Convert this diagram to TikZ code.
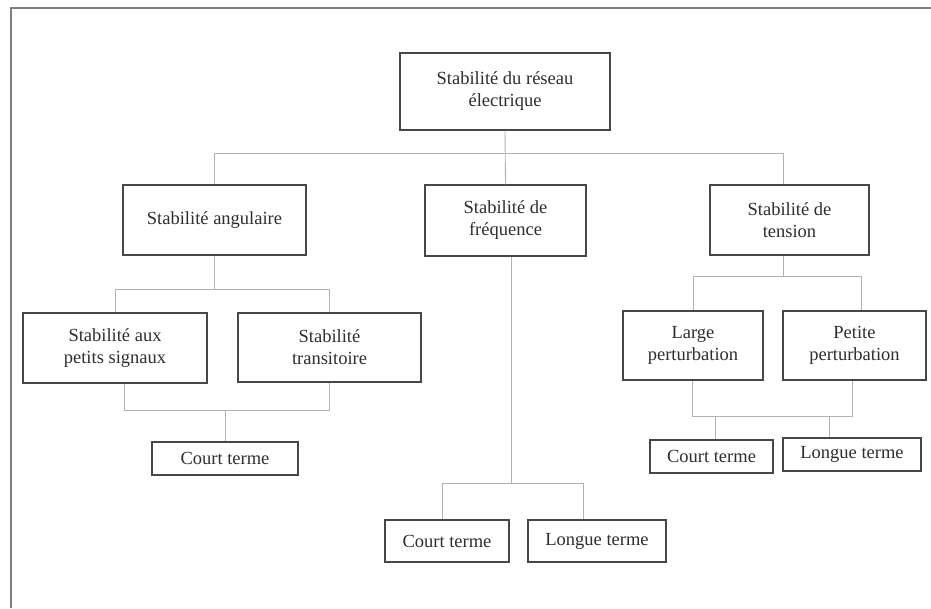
\documentclass[tikz,border=0pt]{standalone}
\usepackage{fontspec}
\setmainfont{Liberation Serif}
\begin{document}
\begin{tikzpicture}[x=1pt,y=-1pt,
  box/.style={draw=black!72, line width=1.4pt, fill=white, inner sep=0pt,
    align=center, text=black!82, font=\fontsize{18.5}{22}\selectfont},
  conn/.style={draw=black!30, line width=0.9pt},
  frame/.style={draw=black!50, line width=2.2pt}]
\useasboundingbox (0,0) rectangle (931,608);
\draw[frame] (11,608) -- (11,8) -- (931,8);

% nodes
\node[box, minimum width=210, minimum height=77] (root) at (505,91.5) {Stabilité du réseau\\électrique};
\node[box, minimum width=183, minimum height=70] (ang) at (214.5,220) {Stabilité angulaire};
\node[box, minimum width=161, minimum height=71] (fre) at (505.5,220.5) {Stabilité de\\fréquence};
\node[box, minimum width=159, minimum height=70] (ten) at (789.5,220) {Stabilité de\\tension};
\node[box, minimum width=184, minimum height=70] (psig) at (115,348) {Stabilité aux\\petits signaux};
\node[box, minimum width=183, minimum height=69] (tra) at (329.5,347.5) {Stabilité\\transitoire};
\node[box, minimum width=146, minimum height=33] (ct1) at (225,458.5) {Court terme};
\node[box, minimum width=140, minimum height=69] (lar) at (693,345.5) {Large\\perturbation};
\node[box, minimum width=143, minimum height=69] (pet) at (854.5,345.5) {Petite\\perturbation};
\node[box, minimum width=123, minimum height=33] (ct3) at (711.5,456.5) {Court terme};
\node[box, minimum width=138, minimum height=33] (lt3) at (852,454.5) {Longue terme};
\node[box, minimum width=124, minimum height=42] (ct2) at (447,541) {Court terme};
\node[box, minimum width=138, minimum height=42] (lt2) at (597,541) {Longue terme};

% junction coordinates
\coordinate (b1) at (0,153);
\coordinate (b2) at (0,289);
\coordinate (b3) at (0,410);
\coordinate (b4) at (0,483);
\coordinate (b5) at (0,276);
\coordinate (b6) at (0,416);

% level 1
\begin{scope}[on background layer/.style={}]
\draw[conn] (root.south) -- (fre.north);
\draw[conn] (ang.north) -- (ang.north |- b1) -- ([xshift=-6.5pt]ten.north |- b1) -- ([xshift=-6.5pt]ten.north);

% angular
\draw[conn] (ang.south) -- (ang.south |- b2);
\draw[conn] (psig.north) -- (psig.north |- b2) -- (tra.north |- b2) -- (tra.north);
\draw[conn] ([xshift=9pt]psig.south) -- ([xshift=9pt]psig.south |- b3) -- (tra.south |- b3) -- (tra.south);
\draw[conn] (ct1.north |- b3) -- (ct1.north);

% frequency
\draw[conn] ([xshift=5.5pt]fre.south) -- ([xshift=5.5pt]fre.south |- b4);
\draw[conn] ([xshift=-5pt]ct2.north) -- ([xshift=-5pt]ct2.north |- b4) -- ([xshift=-14pt]lt2.north |- b4) -- ([xshift=-14pt]lt2.north);

% tension
\draw[conn] ([xshift=-6.5pt]ten.south) -- ([xshift=-6.5pt]ten.south |- b5);
\draw[conn] (lar.north) -- (lar.north |- b5) -- ([xshift=6.5pt]pet.north |- b5) -- ([xshift=6.5pt]pet.north);
\draw[conn] ([xshift=-1pt]lar.south) -- ([xshift=-1pt]lar.south |- b6) -- ([xshift=-2.5pt]pet.south |- b6) -- ([xshift=-2.5pt]pet.south);
\draw[conn] ([xshift=3.5pt]ct3.north |- b6) -- ([xshift=3.5pt]ct3.north);
\draw[conn] ([xshift=-23pt]lt3.north |- b6) -- ([xshift=-23pt]lt3.north);
\end{scope}
\end{tikzpicture}
\end{document}
